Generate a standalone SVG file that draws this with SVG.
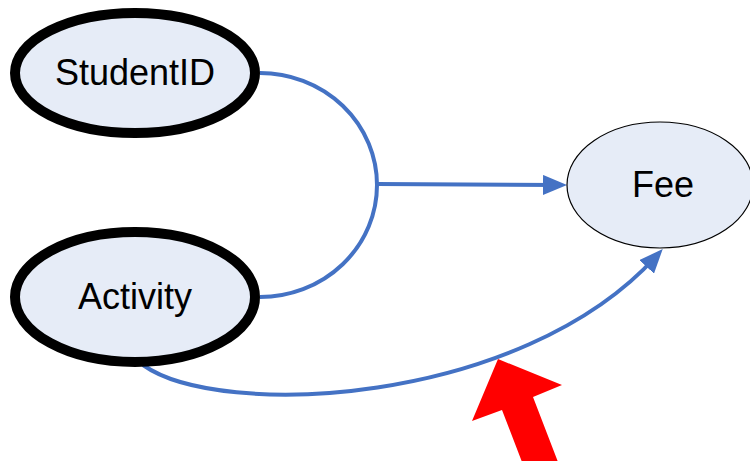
<svg xmlns="http://www.w3.org/2000/svg" width="750" height="461" viewBox="0 0 750 461">
  <style>
    .attr { fill: #E6ECF7; stroke: #000000; stroke-width: 10; }
    .dep { fill: #E6ECF7; stroke: #000000; stroke-width: 1.2; }
    .lbl { font-family: "Liberation Sans", Arial, sans-serif; font-size: 36px; fill: #000000; text-anchor: middle; }
    .conn { fill: none; stroke: #4472C4; stroke-width: 4; }
  </style>
  <defs>
    <marker id="ah" markerUnits="userSpaceOnUse" markerWidth="24" markerHeight="20" refX="14" refY="10" orient="auto">
      <path d="M0,0 L24,10 L0,20 z" fill="#4472C4"/>
    </marker>
  </defs>
  <rect width="750" height="461" fill="#ffffff"/>
  <g id="connectors">
    <path class="conn" d="M260,73 A117 112 0 0 1 260,297"/>
    <path class="conn" d="M377,184 L557,185" marker-end="url(#ah)"/>
    <path class="conn" d="M143,365 C220,420 520,406 656,256.5" marker-end="url(#ah)"/>
  </g>
  <g id="StudentID">
    <ellipse class="attr" cx="135" cy="73" rx="120" ry="60"/>
    <text class="lbl" x="135" y="85">StudentID</text>
  </g>
  <g id="Activity">
    <ellipse class="attr" cx="135" cy="297" rx="120" ry="65"/>
    <text class="lbl" x="135" y="309">Activity</text>
  </g>
  <g id="Fee">
    <ellipse class="dep" cx="660" cy="185" rx="93" ry="63"/>
    <text class="lbl" x="663" y="197">Fee</text>
  </g>
  <polygon id="highlight" points="498,359 562,385 533,397 558,462 527,475 502,410 472,421" fill="#FF0000"/>
</svg>
